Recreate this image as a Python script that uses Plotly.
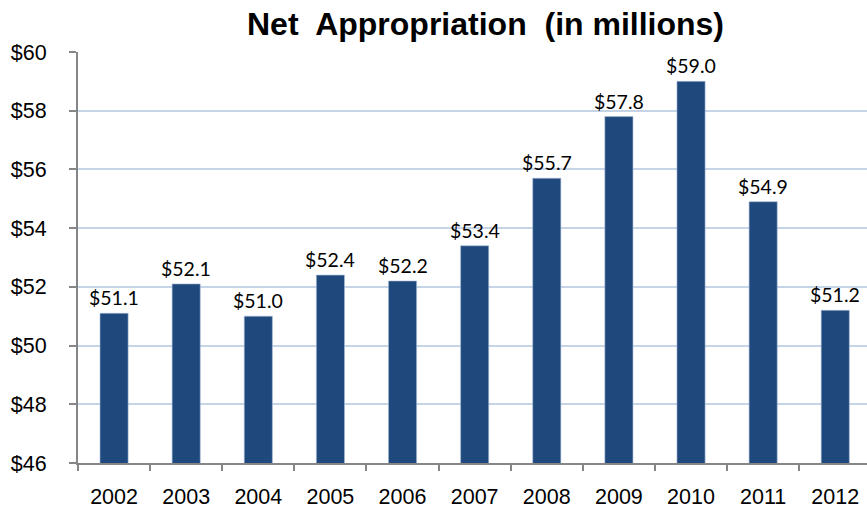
import plotly.graph_objects as go

years = ["2002", "2003", "2004", "2005", "2006", "2007", "2008", "2009", "2010", "2011", "2012"]
appropriation = [51.1, 52.1, 51.0, 52.4, 52.2, 53.4, 55.7, 57.8, 59.0, 54.9, 51.2]
y_ticks = [46, 48, 50, 52, 54, 56, 58, 60]
y_tick_labels = ["$46", "$48", "$50", "$52", "$54", "$56", "$58", "$60"]

bar_labels = [f"${v:.1f}" for v in appropriation]

fig = go.Figure(
    go.Bar(
        x=years,
        y=appropriation,
        base=0,
        cliponaxis=False,
        marker=dict(color="#1f497d", line=dict(color="#a9bcd8", width=0.6)),
        width=0.39,
    )
)

# value labels sitting just above each bar (category index positions)
for idx, (value, label) in enumerate(zip(appropriation, bar_labels)):
    fig.add_annotation(
        x=idx,
        y=value,
        xref="x",
        yref="y",
        text=label,
        showarrow=False,
        xanchor="center",
        yanchor="bottom",
        yshift=2,
        font=dict(family="Lato, Carlito, sans-serif", size=19.5, color="#000000"),
    )

fig.update_layout(
    width=867,
    height=509,
    margin=dict(l=78, r=0, t=52, b=44),
    paper_bgcolor="white",
    plot_bgcolor="white",
    showlegend=False,
    title=dict(
        text="Net  Appropriation  (in millions)",
        font=dict(family="Arial, Liberation Sans, sans-serif", size=32, color="#000000", weight="bold"),
        x=0.56,
        xanchor="center",
        y=0.953,
        yanchor="middle",
    ),
)

fig.update_yaxes(
    range=[46, 60],
    tickvals=y_ticks,
    ticktext=y_tick_labels,
    showgrid=True,
    gridcolor="#c6d4e8",
    gridwidth=1.5,
    showline=True,
    linecolor="#868686",
    linewidth=2,
    ticks="outside",
    ticklen=7,
    tickwidth=1.5,
    tickcolor="#868686",
    ticklabelstandoff=18,
    tickfont=dict(family="Arial, Liberation Sans, sans-serif", size=21.5, color="#000000"),
    zeroline=False,
)

fig.update_xaxes(
    type="category",
    range=[-0.5, 10.44],
    showline=True,
    linecolor="#868686",
    linewidth=2,
    ticks="outside",
    tickson="boundaries",
    ticklen=6,
    tickwidth=1.5,
    tickcolor="#868686",
    ticklabelstandoff=13,
    tickfont=dict(family="Arial, Liberation Sans, sans-serif", size=21.5, color="#000000"),
    showgrid=False,
)

fig.write_html("out.html")
